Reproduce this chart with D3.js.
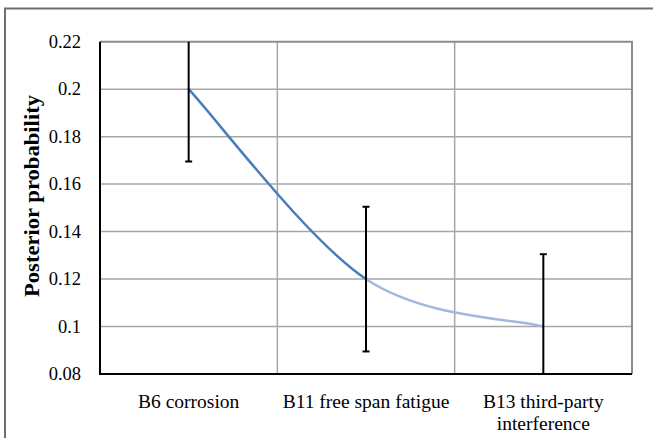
<!DOCTYPE html>
<html><head><meta charset="utf-8">
<script src="https://cdn.jsdelivr.net/npm/d3@7"></script>
<style>
html,body{margin:0;padding:0;background:#fff;}
svg{display:block;}
text{font-family:"Liberation Serif","Times New Roman",serif;fill:#000;}
</style></head>
<body><svg id="chart" width="653" height="438"></svg>
<script>
const categories = ["B6 corrosion", "B11 free span fatigue", "B13 third-party interference"];
const categoryLines = [["B6 corrosion"], ["B11 free span fatigue"], ["B13 third-party", "interference"]];
const values = [0.2, 0.12, 0.1];
const errors = [0.0305, 0.0305, 0.0305];
const yTicks = [0.08, 0.1, 0.12, 0.14, 0.16, 0.18, 0.2, 0.22];
const yTickLabels = ["0.08", "0.1", "0.12", "0.14", "0.16", "0.18", "0.2", "0.22"];
const yTitle = "Posterior probability";

const W = 653, H = 438;
const m = {left: 100, right: 21, top: 41.7, bottom: 64};
const iw = W - m.left - m.right, ih = H - m.top - m.bottom;
const svg = d3.select("#chart");

// outer chart-area border (top & left visible)
svg.append("path").attr("d", `M5,${H} L5,8.5 L${W},8.5`)
  .attr("fill", "none").attr("stroke", "#6e6e6e").attr("stroke-width", 2);

const g = svg.append("g").attr("transform", `translate(${m.left},${m.top})`);
const x = d3.scaleBand().domain(categories).range([0, iw]).padding(0);
const y = d3.scaleLinear().domain([0.08, 0.22]).range([ih, 0]);

g.append("clipPath").attr("id", "clip").append("rect")
  .attr("x", 0).attr("y", 0).attr("width", iw).attr("height", ih);

// horizontal gridlines
g.selectAll(".hg").data(yTicks.filter(t => t > 0.08 && t < 0.22)).enter().append("line")
  .attr("x1", 0).attr("x2", iw).attr("y1", d => y(d)).attr("y2", d => y(d))
  .attr("stroke", "#a6a6a6").attr("stroke-width", 1.5);
// vertical gridlines at category boundaries
g.selectAll(".vg").data(categories.slice(1)).enter().append("line")
  .attr("x1", d => x(d)).attr("x2", d => x(d)).attr("y1", 0).attr("y2", ih)
  .attr("stroke", "#a6a6a6").attr("stroke-width", 1.5);
// plot frame top & right
g.append("path").attr("d", `M0,0 L${iw},0 L${iw},${ih}`)
  .attr("fill", "none").attr("stroke", "#8c8c8c").attr("stroke-width", 2);

// smooth line (Catmull-Rom, duplicated endpoints)
const pts = categories.map((c, i) => [x(c) + x.bandwidth() / 2, y(values[i])]);
const segColors = ["#4a7ebb", "#a2b9dd"];
for (let i = 0; i < pts.length - 1; i++) {
  const p0 = pts[Math.max(0, i - 1)], p1 = pts[i], p2 = pts[i + 1], p3 = pts[Math.min(pts.length - 1, i + 2)];
  const c1 = [p1[0] + (p2[0] - p0[0]) / 6, p1[1] + (p2[1] - p0[1]) / 6];
  const c2 = [p2[0] - (p3[0] - p1[0]) / 6, p2[1] - (p3[1] - p1[1]) / 6];
  const p = d3.path();
  p.moveTo(p1[0], p1[1]);
  p.bezierCurveTo(c1[0], c1[1], c2[0], c2[1], p2[0], p2[1]);
  g.append("path").attr("d", p.toString()).attr("fill", "none")
    .attr("stroke", segColors[i]).attr("stroke-width", 2.5).attr("stroke-linecap", "round");
}

// error bars
const eb = g.append("g").attr("clip-path", "url(#clip)");
categories.forEach((c, i) => {
  const cx = x(c) + x.bandwidth() / 2;
  const hi = values[i] + errors[i], lo = values[i] - errors[i];
  eb.append("line").attr("x1", cx).attr("x2", cx).attr("y1", y(hi)).attr("y2", y(lo))
    .attr("stroke", "#000").attr("stroke-width", 2);
  [hi, lo].forEach(v => {
    eb.append("line").attr("x1", cx - 3.5).attr("x2", cx + 3.5).attr("y1", y(v)).attr("y2", y(v))
      .attr("stroke", "#000").attr("stroke-width", 2);
  });
});

// axes
const yAxis = d3.axisLeft(y).tickValues(yTicks).tickSize(0).tickPadding(19)
  .tickFormat((d, i) => yTickLabels[i]);
const ya = g.append("g").call(yAxis);
ya.select(".domain").remove();
ya.selectAll("text").attr("font-size", 18.5).attr("dy", "0.3em")
  .style("font-family", '"Liberation Serif",serif');
g.append("line").attr("x1", 0).attr("x2", 0).attr("y1", 0).attr("y2", ih).attr("stroke", "#000").attr("stroke-width", 2);
g.append("line").attr("x1", -1).attr("x2", iw).attr("y1", ih).attr("y2", ih).attr("stroke", "#000").attr("stroke-width", 2);

// category labels
categories.forEach((c, i) => {
  const cx = x(c) + x.bandwidth() / 2;
  const t = g.append("text").attr("text-anchor", "middle").attr("font-size", 19.5)
    .attr("transform", `translate(${cx},${ih + 33.7})`);
  categoryLines[i].forEach((ln, j) => {
    t.append("tspan").attr("x", 0).attr("y", j * 22.5).text(ln);
  });
});

// y title
svg.append("text").attr("transform", `translate(38.5,196) rotate(-90)`)
  .attr("text-anchor", "middle").attr("font-size", 21).attr("font-weight", "bold")
  .attr("textLength", 202).attr("lengthAdjust", "spacingAndGlyphs")
  .text(yTitle);
</script></body></html>
